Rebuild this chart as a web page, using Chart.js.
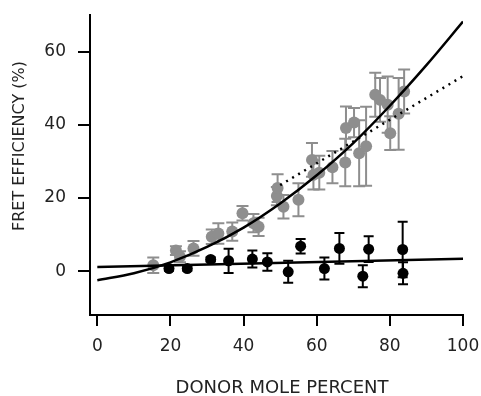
<!DOCTYPE html>
<html>
<head>
<meta charset="utf-8">
<script src="https://cdn.jsdelivr.net/npm/chart.js@4/dist/chart.umd.min.js"></script>
<style>
  body { margin: 0; background: #fff; }
  canvas { display: block; }
</style>
</head>
<body>
<canvas id="fretChart" width="481" height="396"></canvas>
<script>
// Acceptor + donor samples (gray)
const grayX = [15.3, 21.5, 22.6, 26.3, 31.3, 33.1, 36.9, 39.7, 42.7, 44.1, 49.1, 49.3, 50.9, 55.0,
               58.7, 59.1, 60.7, 64.3, 67.8, 68.0, 70.2, 71.6, 73.5, 76.0, 77.3, 79.4, 80.1, 82.4, 83.9];
const grayY = [1.6, 5.6, 3.9, 6.2, 9.4, 10.3, 10.8, 15.8, 13.1, 12.1, 20.5, 22.7, 17.6, 19.5,
               30.4, 26.3, 26.9, 28.4, 29.7, 39.1, 40.6, 32.2, 34.1, 48.2, 46.8, 45.5, 37.7, 43.0, 49.1];
const grayErr = [2.1, 1.2, 1.5, 2.0, 2.0, 2.8, 2.5, 2.0, 2.5, 2.5, 2.5, 3.8, 3.2, 4.5,
                 4.6, 4.0, 4.6, 4.4, 6.5, 5.9, 4.0, 9.0, 10.8, 6.0, 6.0, 7.7, 4.6, 9.8, 6.0];

// Donor only samples (black)
const blackX = [19.6, 24.6, 31.0, 35.9, 42.4, 46.5, 52.2, 55.6, 62.1, 66.2, 72.6, 74.2, 83.5, 83.6];
const blackY = [0.7, 0.7, 3.2, 2.8, 3.3, 2.5, -0.2, 6.8, 0.7, 6.2, -1.4, 6.0, 5.9, -0.6];
const blackErr = [0.6, 0.6, 0.6, 3.3, 2.3, 2.4, 3.0, 2.0, 3.0, 4.2, 3.0, 3.5, 7.6, 3.0];

// fitted curves
const curveX = [0, 10, 20, 30, 40, 50, 60, 70, 80, 90, 100];
const curveY = [-2.5, -0.6, 2.4, 6.6, 11.9, 18.5, 26.2, 35.0, 45.2, 56.3, 68.2];
const dottedX = [50, 100];
const dottedY = [23.5, 53.3];
const flatX = [0, 100];
const flatY = [1.1, 3.4];

const xTicks = [0, 20, 40, 60, 80, 100];
const yTicks = [0, 20, 40, 60];

const pts = (xs, ys) => xs.map((x, i) => ({ x: x, y: ys[i] }));

// vertical error bars with caps, drawn under the markers
const errorBars = {
    id: "errorBars",
    beforeDatasetsDraw(chart) {
        const c = chart.ctx;
        const xs = chart.scales.x, ys = chart.scales.y;
        chart.data.datasets.forEach((ds) => {
            if (!ds.errors) return;
            c.save();
            c.strokeStyle = ds.backgroundColor;
            c.lineWidth = 2;
            ds.data.forEach((p, i) => {
                const e = ds.errors[i];
                const px = xs.getPixelForValue(p.x);
                const top = ys.getPixelForValue(p.y + e);
                const bot = ys.getPixelForValue(p.y - e);
                c.beginPath();
                c.moveTo(px, top); c.lineTo(px, bot);
                c.moveTo(px - ds.cap, top); c.lineTo(px + ds.cap, top);
                c.moveTo(px - ds.cap, bot); c.lineTo(px + ds.cap, bot);
                c.stroke();
            });
            c.restore();
        });
    }
};

const axisTitles = {
    id: "axisTitles",
    afterDraw(chart) {
        const c = chart.ctx;
        c.save();
        c.fillStyle = "#222";
        c.textAlign = "center";
        c.textBaseline = "middle";
        c.font = "18px 'DejaVu Sans'";
        c.fillText("DONOR MOLE PERCENT", 282, 388);
        c.translate(20, 146);
        c.rotate(-Math.PI / 2);
        c.font = "16px 'DejaVu Sans'";
        c.fillText("FRET EFFICIENCY (%)", 0, 0);
        c.restore();
    }
};

const tickFont = { family: "DejaVu Sans", size: 17 };

// no extra room for overhanging labels, the layout padding handles it
const noLabelPad = (s) => {
    s.paddingTop = 0; s.paddingBottom = 0;
    s.paddingLeft = 0; s.paddingRight = 0;
};

new Chart(document.getElementById("fretChart"), {
    type: "scatter",
    data: {
        datasets: [
            {
                data: pts(curveX, curveY),
                showLine: true,
                borderColor: "#000",
                borderWidth: 2.5,
                pointRadius: 0,
                cubicInterpolationMode: "monotone",
            },
            {
                data: pts(dottedX, dottedY),
                showLine: true,
                borderColor: "#000",
                borderWidth: 2.5,
                borderDash: [2, 5],
                pointRadius: 0,
            },
            {
                data: pts(flatX, flatY),
                showLine: true,
                borderColor: "#000",
                borderWidth: 2.5,
                pointRadius: 0,
            },
            {
                data: pts(blackX, blackY),
                errors: blackErr,
                cap: 5,
                backgroundColor: "#000",
                borderWidth: 0,
                pointRadius: 5.5,
            },
            {
                data: pts(grayX, grayY),
                errors: grayErr,
                cap: 6,
                backgroundColor: "#8e8e8e",
                borderWidth: 0,
                pointRadius: 6,
            },
        ],
    },
    options: {
        responsive: false,
        animation: false,
        layout: { padding: { top: 15, right: 18, left: 0, bottom: 0 } },
        plugins: {
            legend: { display: false },
            tooltip: { enabled: false },
        },
        scales: {
            x: {
                type: "linear",
                min: -2,
                max: 100,
                afterBuildTicks: (s) => { s.ticks = xTicks.map((v) => ({ value: v })); },
                afterFit: (s) => { s.height = 81; noLabelPad(s); },
                grid: { drawOnChartArea: false, drawTicks: true, tickLength: 11, color: "#000", lineWidth: 2 },
                border: { display: true, color: "#000", width: 2 },
                ticks: { font: tickFont, color: "#222", padding: 10, maxRotation: 0 },
            },
            y: {
                type: "linear",
                min: -12,
                max: 70,
                afterBuildTicks: (s) => { s.ticks = yTicks.map((v) => ({ value: v })); },
                afterFit: (s) => { s.width = 90; noLabelPad(s); },
                grid: { drawOnChartArea: false, drawTicks: true, tickLength: 12, color: "#000", lineWidth: 2 },
                border: { display: true, color: "#000", width: 2 },
                ticks: { font: tickFont, color: "#222", padding: 12 },
            },
        },
    },
    plugins: [errorBars, axisTitles],
});
</script>
</body>
</html>
